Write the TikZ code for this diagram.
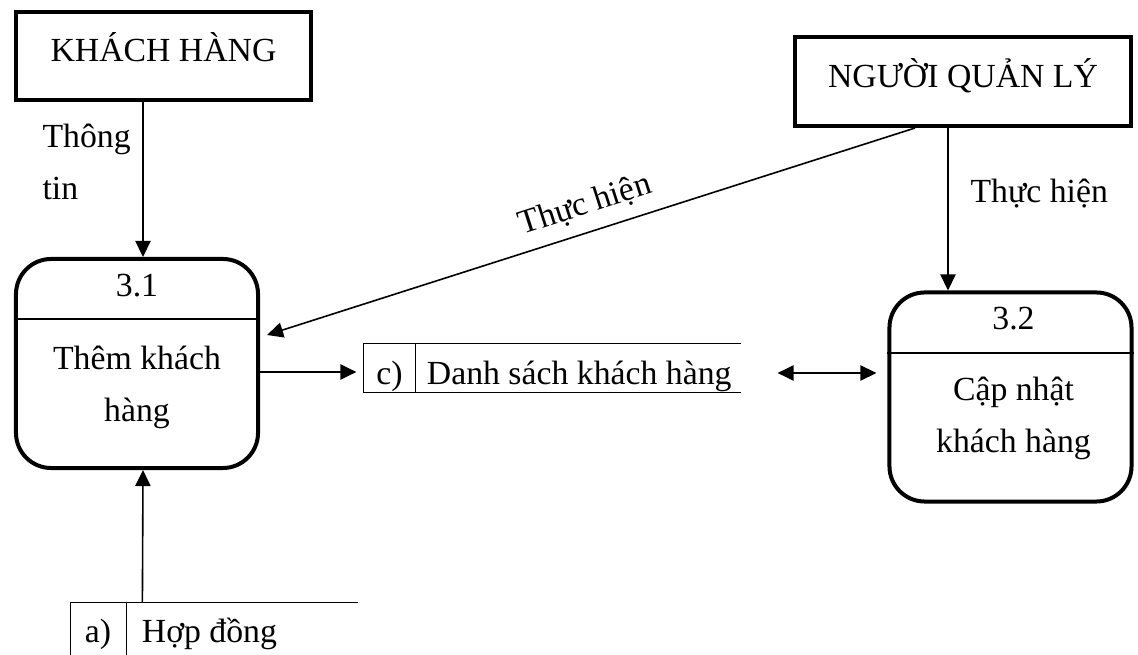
\documentclass[tikz,border=0pt]{standalone}
\usepackage{fontspec}
\setmainfont{Liberation Serif}
\usetikzlibrary{calc,arrows.meta}

\tikzset{
  actor/.style={draw, line width=0.05cm, minimum width=3.6875cm, minimum height=1.1cm,
    text height=0.66em, text depth=0.25em},
  process/.style={draw, line width=0.05cm, rounded corners=0.44cm,
    minimum width=3.025cm, minimum height=2.6125cm},
  store/.style={minimum width=4.7cm, minimum height=0.6cm},
  flow/.style={line width=0.02cm, -{Triangle[length=0.2cm,width=0.19cm]}},
  both/.style={line width=0.02cm, {Triangle[length=0.2cm,width=0.19cm]}-{Triangle[length=0.2cm,width=0.19cm]}},
  twoline/.style={align=center, font=\fontsize{12}{18.6}\selectfont}
}

\begin{document}
\begin{tikzpicture}[x=0.0125cm, y=-0.0125cm, inner sep=0pt, font=\fontsize{12}{14}\selectfont]
	%%%%% START %%%%%
	\useasboundingbox (0,0) rectangle (1138,655);
	
	% actors
	\node[actor] (kh) at (163.5,56) {KHÁCH HÀNG};
	\node[actor, minimum width=4.2cm, minimum height=1.1125cm] (nql) at (963,81.5) {NGƯỜI QUẢN LÝ};
	
	% process 3.1 (base of a two-line node = its last line)
	\node[process] (p31) at (137,363.5) {};
	\draw[line width=0.03cm] ($(p31.west)+(0,-44.5)$) -- ($(p31.east)+(0,-44.5)$);
	\node[anchor=base] (n31) at ($(p31.north)+(0,40)$) {3.1};
	\node[twoline, anchor=base] (t31) at ($(p31.north)+(0,165)$) {Thêm khách\\hàng};
	
	% process 3.2
	\node[process] (p32) at (1010.5,397) {};
	\draw[line width=0.03cm] ($(p32.west)+(0,-44)$) -- ($(p32.east)+(0,-44)$);
	\node[anchor=base] (n32) at ($(p32.north)+(3,39)$) {3.2};
	\node[twoline, anchor=base] (t32) at ($(p32.north)+(3,162)$) {Cập nhật\\khách hàng};
	
	% store c)
	\node[store] (dsk) at (552,368) {};
	\draw (dsk.north east) -- (dsk.north west) -- (dsk.south west) -- (dsk.south east);
	\draw ($(dsk.north west)+(52,0)$) -- ($(dsk.south west)+(52,0)$);
	\node[anchor=base] (dskid) at ($(dsk.west)+(26,17)$) {c)};
	\node[anchor=base west] (dsktxt) at ($(dsk.west)+(63,17)$) {Danh sách khách hàng};
	
	% store a)
	\node[store, minimum width=3.575cm, minimum height=0.65cm] (hd) at (214,629) {};
	\draw (hd.south west) -- (hd.north west) -- (hd.north east);
	\draw ($(hd.north west)+(56,0)$) -- ($(hd.south west)+(56,0)$);
	\node[anchor=base] (hdid) at ($(hd.north west)+(27.5,40)$) {a)};
	\node[anchor=base west] (hdtxt) at ($(hd.north west)+(71,40)$) {Hợp đồng};
	
	% flows
	\draw[flow] ($(kh.south)+(-20.5,0)$) -- ($(p31.north)+(6,0)$);
	\draw[flow] ($(hd.north west)+(72,0)$) -- ($(p31.south)+(6,0)$);
	\draw[flow] ($(p31.east)+(0,8.5)$) -- ($(dsk.west)+(-7,4)$);
	\draw[both] ($(dsk.east)+(37,5)$) -- ($(p32.west)+(-11,-24)$);
	\draw[flow] ($(nql.south)+(-15,0)$) -- ($(p32.north)+(-62.5,0)$);
	\draw[flow] ($(nql.south)+(-48,0)$) -- ($(p31.east)+(7,-28.5)$);
	
	% labels
	\node[twoline, align=left, anchor=base west] (lblinfo) at (42,200) {Thông\\tin};
	\node[anchor=base west] (lblnql) at (970,203) {Thực hiện};
	\node[rotate=17.8] (lbldiag) at (585,205) {Thực hiện};
	%%%%% END %%%%%
\end{tikzpicture}
\end{document}
